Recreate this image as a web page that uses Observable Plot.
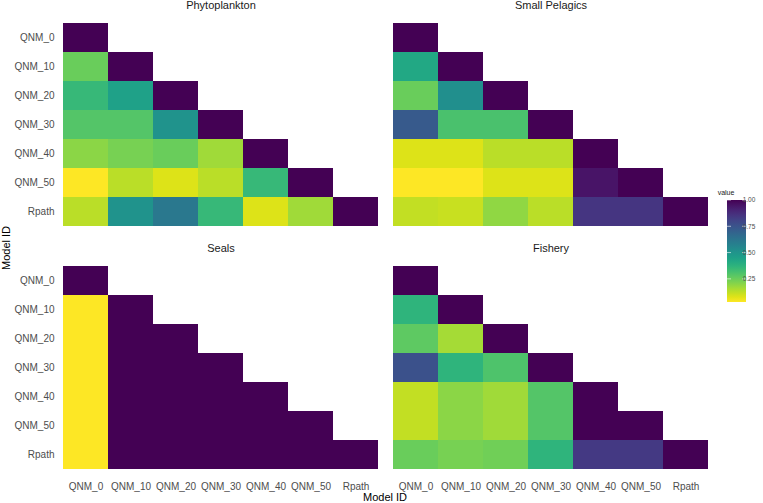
<!DOCTYPE html>
<html>
<head>
<meta charset="utf-8">
<script src="https://cdn.jsdelivr.net/npm/d3@7"></script>
<script src="https://cdn.jsdelivr.net/npm/@observablehq/plot@0.6"></script>
<style>
  html, body { margin: 0; padding: 0; background: #fff; }
  #wrap { position: relative; width: 763px; height: 503px; font-family: "Liberation Sans", Arial, sans-serif; }
  #legend { position: absolute; left: 0; top: 0; }
</style>
</head>
<body>
<div id="wrap"></div>
<script>
// Model IDs (both axes)
const models = ["QNM_0", "QNM_10", "QNM_20", "QNM_30", "QNM_40", "QNM_50", "Rpath"];
// Facet panels in reading order
const groups = ["Phytoplankton", "Small Pelagics", "Seals", "Fishery"];

// Lower-triangular similarity values (row i has i+1 values: columns QNM_0..)
const phytoplankton = [
  [1],
  [0.25, 1],
  [0.35, 0.45, 1],
  [0.29, 0.29, 0.50, 1],
  [0.20, 0.23, 0.25, 0.17, 1],
  [0.03, 0.13, 0.08, 0.13, 0.35, 1],
  [0.13, 0.50, 0.61, 0.35, 0.08, 0.17, 1]
];
const smallPelagics = [
  [1],
  [0.42, 1],
  [0.25, 0.52, 1],
  [0.73, 0.31, 0.31, 1],
  [0.08, 0.08, 0.13, 0.13, 1],
  [0.03, 0.03, 0.08, 0.08, 0.95, 1],
  [0.12, 0.11, 0.19, 0.13, 0.85, 0.85, 1]
];
const seals = [
  [1],
  [0.03, 1],
  [0.03, 1, 1],
  [0.03, 1, 1, 1],
  [0.03, 1, 1, 1, 1],
  [0.03, 1, 1, 1, 1, 1],
  [0.03, 1, 1, 1, 1, 1, 1]
];
const fishery = [
  [1],
  [0.37, 1],
  [0.27, 0.16, 1],
  [0.76, 0.37, 0.30, 1],
  [0.12, 0.20, 0.17, 0.29, 1],
  [0.12, 0.20, 0.17, 0.29, 1, 1],
  [0.25, 0.23, 0.24, 0.37, 0.84, 0.84, 1]
];
const legendTicks = [0.25, 0.50, 0.75, 1.00];

const matrices = [phytoplankton, smallPelagics, seals, fishery];
const data = [];
matrices.forEach((m, g) => {
  m.forEach((row, i) => row.forEach((v, j) => {
    data.push({group: groups[g], fx: g % 2, fy: Math.floor(g / 2), row: models[i], col: models[j], value: v});
  }));
});
const titles = groups.map((g, k) => ({group: g, fx: k % 2, fy: Math.floor(k / 2)}));
const vmin = d3.min(data, d => d.value);

const plot = Plot.plot({
  width: 763,
  height: 503,
  marginLeft: 61,
  marginRight: 53,
  marginTop: 23,
  marginBottom: 34,
  style: {fontFamily: "'Liberation Sans', Arial, sans-serif", fontSize: "10px", color: "#4d4d4d", background: "#fff"},
  fx: {domain: [0, 1], paddingInner: 0.039, paddingOuter: 0, axis: null},
  fy: {domain: [0, 1], paddingInner: 0.165, paddingOuter: 0, axis: null},
  x: {domain: models, padding: 0, label: null, tickSize: 0, tickPadding: 13},
  y: {domain: models, padding: 0, label: null, tickSize: 0, tickPadding: 8},
  color: {type: "linear", scheme: "viridis", reverse: true, domain: [vmin, 1]},
  marks: [
    Plot.cell(data, {x: "col", y: "row", fx: "fx", fy: "fy", fill: "value", inset: 0}),
    Plot.text(titles, {fx: "fx", fy: "fy", text: "group", frameAnchor: "top", lineAnchor: "middle", dy: -18, fontSize: 11, fill: "#1a1a1a"})
  ]
});

const wrap = document.getElementById("wrap");
wrap.appendChild(plot);

// Axis titles
const svg = d3.select(plot.tagName.toLowerCase() === "svg" ? plot : plot.querySelector("svg"));
svg.append("text").attr("x", 385).attr("y", 501).attr("text-anchor", "middle")
  .attr("font-size", 11).attr("fill", "#000").text("Model ID");
svg.append("text").attr("transform", "translate(10,248) rotate(-90)").attr("text-anchor", "middle")
  .attr("font-size", 11).attr("fill", "#000").text("Model ID");

// Vertical colour bar legend using the plot's colour scale
const color = plot.scale("color");
const cs = d3.scaleLinear().domain(color.domain).range([color.domain[0] === undefined ? 0 : 0, 1]);
const ly = d3.scaleLinear().domain([vmin, 1]).range([302, 200]);
const defs = svg.append("defs");
const grad = defs.append("linearGradient").attr("id", "cbar").attr("x1", 0).attr("y1", 1).attr("x2", 0).attr("y2", 0);
const nStops = 20;
d3.range(nStops + 1).forEach(k => {
  const v = vmin + (1 - vmin) * k / nStops;
  grad.append("stop").attr("offset", k / nStops).attr("stop-color", Plot.scale({color: {type: "linear", scheme: "viridis", reverse: true, domain: [vmin, 1]}}).apply(v));
});
const lg = svg.append("g");
lg.append("text").attr("x", 726).attr("y", 195).attr("font-size", 7).attr("fill", "#1a1a1a").text("value");
lg.append("rect").attr("x", 727).attr("y", 200).attr("width", 19).attr("height", 102).attr("fill", "url(#cbar)");
legendTicks.forEach(t => {
  const y = ly(t);
  lg.append("line").attr("x1", 727).attr("x2", 731).attr("y1", y).attr("y2", y).attr("stroke", "#fff").attr("stroke-width", 0.6);
  lg.append("line").attr("x1", 742).attr("x2", 746).attr("y1", y).attr("y2", y).attr("stroke", "#fff").attr("stroke-width", 0.6);
  lg.append("text").attr("x", 749).attr("y", y).attr("dy", "0.35em").attr("font-size", 6.5).attr("fill", "#4d4d4d").text(t.toFixed(2));
});
</script>
</body>
</html>
